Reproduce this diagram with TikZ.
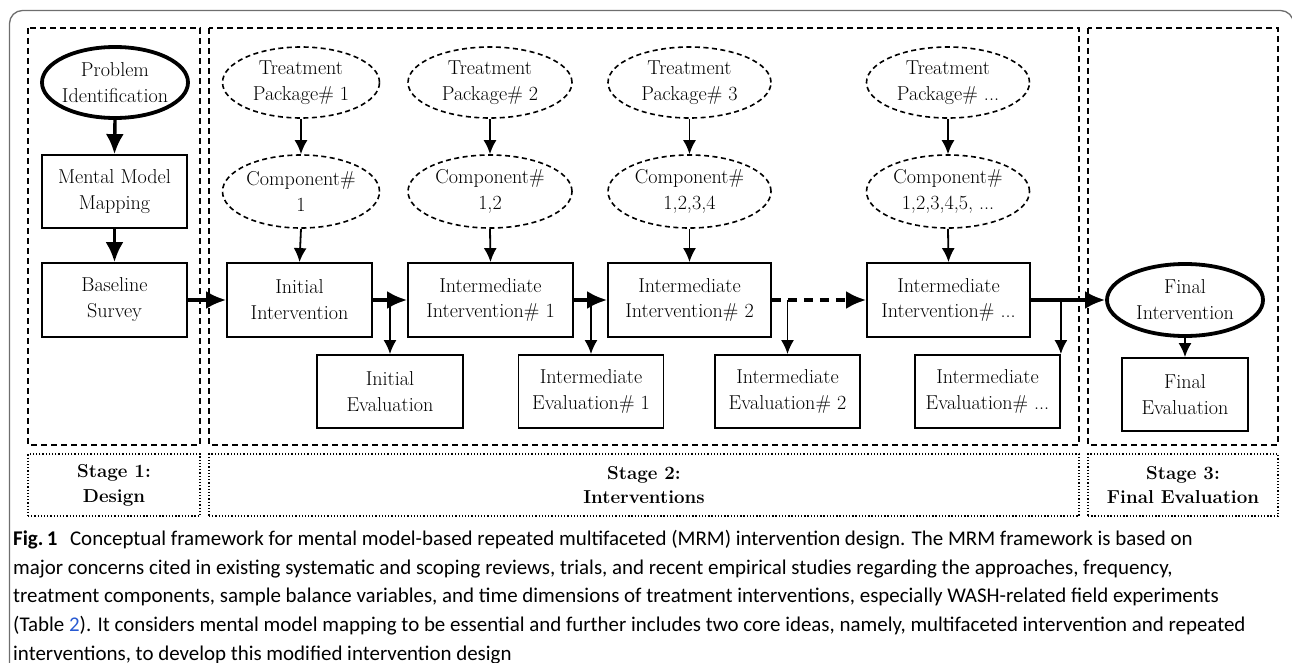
\documentclass[tikz,border=0pt]{standalone}
\usepackage{fontspec}
\newfontfamily\capfont{Carlito}
\usetikzlibrary{shapes.geometric,arrows.meta}
\newcommand\diafont{\fontsize{20.2}{26}\selectfont}
\newcommand\stagefont{\fontsize{18.8}{25}\selectfont\bfseries}
\definecolor{linkblue}{RGB}{40,90,210}
\definecolor{framegray}{RGB}{110,110,110}
\begin{document}
\begin{tikzpicture}[x=1bp,y=-1bp,line join=miter,
  box/.style={draw,line width=1.8bp,minimum width=145bp,minimum height=73bp,inner sep=0pt,align=center,font=\diafont},
  oval/.style={draw,ellipse,line width=1.6bp,dash pattern=on 5bp off 3.5bp,minimum width=160bp,minimum height=71bp,inner xsep=-20bp,inner ysep=-10bp,align=center,font=\diafont},
  boldoval/.style={draw,ellipse,line width=3.8bp,minimum width=146bp,minimum height=71bp,inner xsep=-20bp,inner ysep=-10bp,align=center,font=\diafont},
  stagebox/.style={draw,line width=1.8bp,dash pattern=on 6bp off 4bp},
  labelbox/.style={draw,line width=1.3bp,dash pattern=on 1.3bp off 1.9bp,minimum height=62bp,inner sep=0pt,align=center,font=\stagefont},
  thickarrow/.style={line width=3.4bp,-{Latex[length=20bp,width=18bp]}},
  thinarrow/.style={line width=1.8bp,-{Latex[length=14bp,width=13bp]}}]
  \useasboundingbox (0,0) rectangle (1292,663);
  \draw[framegray,line width=1.3bp,rounded corners=13bp] (9.5,680) -- (9.5,10.5) -- (1293.5,10.5) -- (1293.5,680);

  \draw[stagebox] (28,28) rectangle (200,445);
  \draw[stagebox] (209,28) rectangle (1079,445);
  \draw[stagebox] (1088,28) rectangle (1278,445);
  \node[labelbox,minimum width=172bp] (lab1) at (114,485) {Stage 1:\\Design};
  \node[labelbox,minimum width=870bp] (lab2) at (644,485) {Stage 2:\\Interventions};
  \node[labelbox,minimum width=190bp] (lab3) at (1183,485) {Stage 3:\\Final Evaluation};

  \node[boldoval] (prob) at (115,82.5) {Problem\\Identification};
  \node[box] (mmm) at (114.5,191.5) {Mental Model\\Mapping};
  \node[box,minimum height=74bp] (base) at (114.5,300) {Baseline\\Survey};

  \node[oval,minimum width=157bp] (tp1) at (301,82.5) {Treatment\\Package\# 1};
  \node[oval,minimum width=164bp] (tp2) at (490,82.5) {Treatment\\Package\# 2};
  \node[oval,minimum width=163bp] (tp3) at (689.5,82.5) {Treatment\\Package\# 3};
  \node[oval,minimum width=163bp] (tpn) at (948,82.5) {Treatment\\Package\# ...};
  \node[oval,minimum width=157bp,minimum height=73bp] (c1) at (301,191.5) {Component\#\\1};
  \node[oval,minimum width=164bp,minimum height=73bp] (c2) at (490,191.5) {Component\#\\1,2};
  \node[oval,minimum width=163bp,minimum height=73bp] (c3) at (689.5,191.5) {Component\#\\1,2,3,4};
  \node[oval,minimum width=163bp,minimum height=73bp] (cn) at (948,191.5) {Component\#\\1,2,3,4,5, ...};

  \node[box,minimum height=74bp] (ii) at (299.5,300) {Initial\\Intervention};
  \node[box,minimum width=165bp,minimum height=74bp] (im1) at (490.5,300) {Intermediate\\Intervention\# 1};
  \node[box,minimum width=163bp,minimum height=74bp] (im2) at (689.5,300) {Intermediate\\Intervention\# 2};
  \node[box,minimum width=163bp,minimum height=74bp] (imn) at (948.5,300) {Intermediate\\Intervention\# ...};
  \node[boldoval,minimum width=156bp,minimum height=72bp] (fi) at (1185,300) {Final\\Intervention};

  \node[box,minimum width=146bp] (ie) at (390,391.5) {Initial\\Evaluation};
  \node[box] (ie1) at (591,391.5) {Intermediate\\Evaluation\# 1};
  \node[box] (ie2) at (787.5,391.5) {Intermediate\\Evaluation\# 2};
  \node[box] (ien) at (987.5,391.5) {Intermediate\\Evaluation\# ...};
  \node[box,minimum width=126bp] (fe) at (1185,394.5) {Final\\Evaluation};

  \draw[thickarrow] (prob.south) -- (mmm.north);
  \draw[thickarrow] (mmm.south) -- (base.north);
  \draw[thickarrow] (base.east) -- (ii.west);
  \draw[thickarrow] (ii.east) -- (im1.west);
  \draw[thickarrow] (im1.east) -- (im2.west);
  \draw[thickarrow,dash pattern=on 9bp off 7bp] (im2.east) -- (imn.west);
  \draw[thickarrow] (imn.east) -- (fi.west);

  \draw[thinarrow] (tp1.south) -- (c1.north);
  \draw[thinarrow] (tp2.south) -- (c2.north);
  \draw[thinarrow] (tp3.south) -- (c3.north);
  \draw[thinarrow] (tpn.south) -- (cn.north);
  \draw[thinarrow] (c1.south) -- (ii.north);
  \draw[thinarrow] (c2.south) -- (im1.north);
  \draw[thinarrow] (c3.south) -- (im2.north);
  \draw[thinarrow] (cn.south) -- (imn.north);

  \draw[thinarrow] (ie.north |- ii.east) -- (ie.north);
  \draw[thinarrow] (ie1.north |- im1.east) -- (ie1.north);
  \draw[thinarrow] (ie2.north |- im2.east) -- (ie2.north);
  \draw[thinarrow] (ien.north east |- imn.east) -- (ien.north east);
  \draw[thinarrow] (fi.south) -- (fe.north);

  \node[anchor=north west,inner sep=0pt,align=left,font=\capfont\fontsize{21}{28.8}\selectfont] (cap) at (13,530)
    {\textbf{Fig.\,1}\hspace{0.6em}Conceptual framework for mental model-based repeated multifaceted (MRM) intervention design. The MRM framework is based on\\
     major concerns cited in existing systematic and scoping reviews, trials, and recent empirical studies regarding the approaches, frequency,\\
     treatment components, sample balance variables, and time dimensions of treatment interventions, especially WASH-related field experiments\\
     (Table~\textcolor{linkblue}{2}). It considers mental model mapping to be essential and further includes two core ideas, namely, multifaceted intervention and repeated\\
     interventions, to develop this modified intervention design};
\end{tikzpicture}
\end{document}
